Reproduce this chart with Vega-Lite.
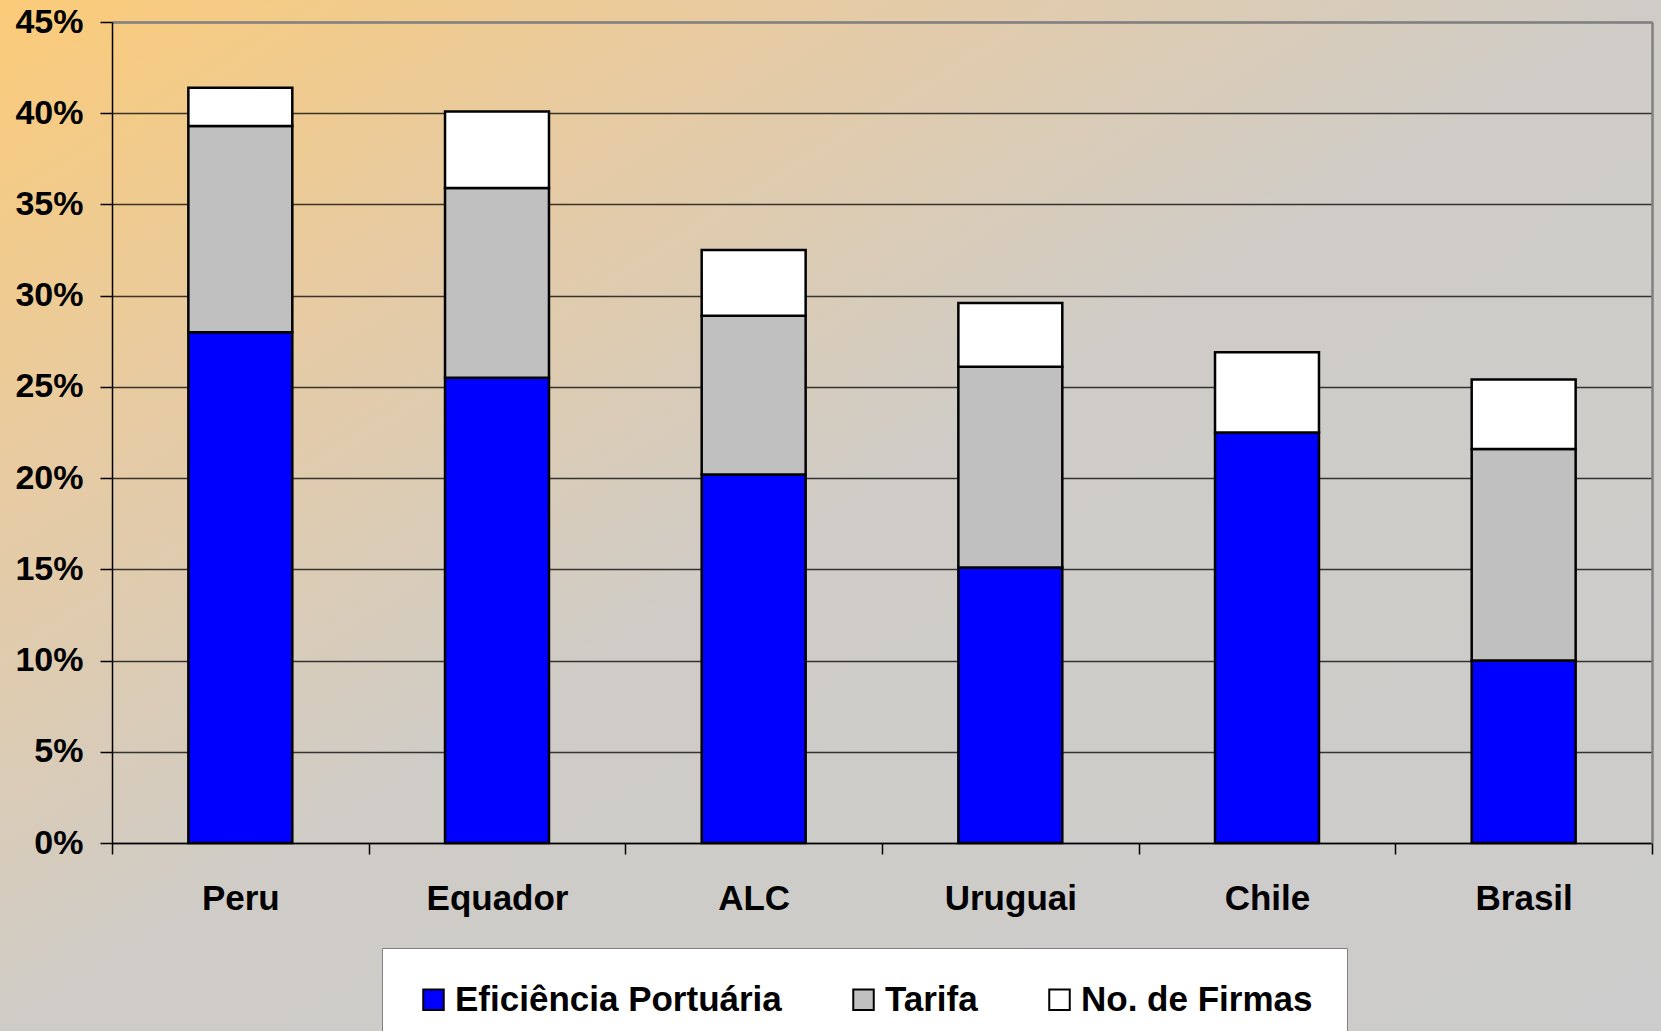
{
  "$schema": "https://vega.github.io/schema/vega-lite/v6.json",
  "width": 1661,
  "height": 1031,
  "autosize": {"type": "none"},
  "padding": 0,
  "background": "#CCCCCC",
  "config": {
    "font": "Liberation Sans",
    "view": {
      "fill": {"gradient": "linear", "x1": 0, "y1": 0, "x2": 1, "y2": 1,
        "stops": [
          {"offset": 0, "color": "#FBCB78"},
          {"offset": 0.25, "color": "#E6CBA4"},
          {"offset": 0.5, "color": "#CFCCC7"},
          {"offset": 1, "color": "#CCCCCC"}
        ]},
      "fillOpacity": 1,
      "stroke": null
    }
  },
  "data": {"values": [
    {"pais": "Peru", "serie": "Eficiência Portuária", "ordem": 1, "valor": 0.280},
    {"pais": "Peru", "serie": "Tarifa", "ordem": 2, "valor": 0.113},
    {"pais": "Peru", "serie": "No. de Firmas", "ordem": 3, "valor": 0.021},
    {"pais": "Equador", "serie": "Eficiência Portuária", "ordem": 1, "valor": 0.255},
    {"pais": "Equador", "serie": "Tarifa", "ordem": 2, "valor": 0.104},
    {"pais": "Equador", "serie": "No. de Firmas", "ordem": 3, "valor": 0.042},
    {"pais": "ALC", "serie": "Eficiência Portuária", "ordem": 1, "valor": 0.202},
    {"pais": "ALC", "serie": "Tarifa", "ordem": 2, "valor": 0.087},
    {"pais": "ALC", "serie": "No. de Firmas", "ordem": 3, "valor": 0.036},
    {"pais": "Uruguai", "serie": "Eficiência Portuária", "ordem": 1, "valor": 0.151},
    {"pais": "Uruguai", "serie": "Tarifa", "ordem": 2, "valor": 0.110},
    {"pais": "Uruguai", "serie": "No. de Firmas", "ordem": 3, "valor": 0.035},
    {"pais": "Chile", "serie": "Eficiência Portuária", "ordem": 1, "valor": 0.225},
    {"pais": "Chile", "serie": "No. de Firmas", "ordem": 3, "valor": 0.044},
    {"pais": "Brasil", "serie": "Eficiência Portuária", "ordem": 1, "valor": 0.100},
    {"pais": "Brasil", "serie": "Tarifa", "ordem": 2, "valor": 0.116},
    {"pais": "Brasil", "serie": "No. de Firmas", "ordem": 3, "valor": 0.038}
  ]},
  "resolve": {"axis": {"x": "independent", "y": "independent"}},
  "layer": [
    {
      "mark": {"type": "bar", "opacity": 0, "width": {"band": 0.405}},
      "encoding": {
        "x": {
          "field": "pais", "type": "nominal",
          "sort": ["Peru", "Equador", "ALC", "Uruguai", "Chile", "Brasil"],
          "scale": {"paddingInner": 0, "paddingOuter": 0, "range": [112, 1652]},
          "axis": {
            "orient": "top", "offset": -22, "title": null,
            "labels": false, "ticks": false, "grid": false,
            "domainColor": "#808080", "domainWidth": 2.5
          }
        },
        "y": {
          "field": "valor", "type": "quantitative", "stack": "zero",
          "scale": {"domain": [0, 0.45], "nice": false, "range": [843, 22]},
          "axis": {
            "orient": "right", "offset": -9, "title": null,
            "labels": false, "ticks": false, "grid": false,
            "domainColor": "#808080", "domainWidth": 2.5
          }
        },
        "order": {"field": "ordem", "type": "quantitative"}
      }
    },
    {
      "mark": {"type": "bar", "stroke": "#000000", "strokeWidth": 2.5, "width": {"band": 0.405}},
      "encoding": {
        "x": {
          "field": "pais", "type": "nominal",
          "sort": ["Peru", "Equador", "ALC", "Uruguai", "Chile", "Brasil"],
          "axis": {
            "orient": "bottom", "offset": -188,
            "title": null, "labelAngle": 0, "tickBand": "extent",
            "labelFontSize": 35, "labelFontWeight": "bold", "labelColor": "#000000",
            "labelBaseline": "alphabetic", "labelPadding": 55,
            "tickSize": 11, "tickColor": "#000000", "tickWidth": 1.5,
            "domainColor": "#000000", "domainWidth": 1.5, "grid": false
          }
        },
        "y": {
          "field": "valor", "type": "quantitative", "stack": "zero",
          "axis": {
            "orient": "left", "offset": -112,
            "title": null, "format": ".0%",
            "values": [0, 0.05, 0.1, 0.15, 0.2, 0.25, 0.3, 0.35, 0.4, 0.45],
            "labelFontSize": 34, "labelFontWeight": "bold", "labelColor": "#000000",
            "labelPadding": 17, "tickSize": 12, "tickColor": "#000000", "tickWidth": 1.5,
            "domainColor": "#000000", "domainWidth": 1.5,
            "grid": true, "gridWidth": 1.3,
            "gridColor": {"condition": {"test": "datum.value >= 0.449", "value": "#808080"}, "value": "#000000"},
            "gridOpacity": {"condition": {"test": "datum.value >= 0.449", "value": 1}, "value": 0.75}
          }
        },
        "color": {
          "field": "serie", "type": "nominal",
          "scale": {"domain": ["Eficiência Portuária", "Tarifa", "No. de Firmas"], "range": ["#0000FF", "#C0C0C0", "#FFFFFF"]},
          "legend": {
            "orient": "none", "legendX": 382, "legendY": 948,
            "direction": "horizontal", "columns": 3, "title": null,
            "fillColor": "#FFFFFF", "strokeColor": "#808080", "padding": 34,
            "symbolType": "square", "symbolSize": 420, "symbolStrokeColor": "#000000", "symbolStrokeWidth": 2, "symbolOpacity": 1,
            "labelFontSize": 35, "labelFontWeight": "bold", "labelColor": "#000000",
            "labelOffset": 4, "columnPadding": 64, "labelLimit": 0
          }
        },
        "order": {"field": "ordem", "type": "quantitative"}
      }
    }
  ]
}
